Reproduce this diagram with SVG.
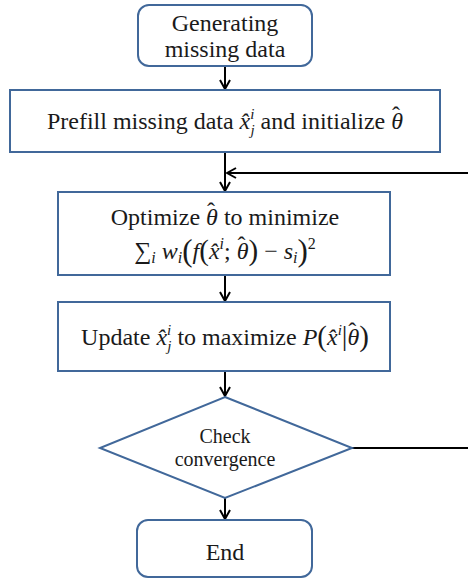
<svg xmlns="http://www.w3.org/2000/svg" width="468" height="579" viewBox="0 0 468 579">
<style>
.box{fill:#fff;stroke:#41689a;stroke-width:2}
.t{font-family:"Liberation Serif","Times New Roman","DejaVu Serif",serif;font-size:24px;fill:#1a1a1a;text-anchor:middle}
.s{font-family:"Liberation Serif","Times New Roman","DejaVu Serif",serif;font-size:20px;fill:#1a1a1a;text-anchor:middle}
.m{font-style:italic}
.c{stroke:#000;stroke-width:2;fill:none}
</style>
<defs>
<marker id="ah" viewBox="0 0 12 12" refX="11" refY="6" markerWidth="12" markerHeight="12" markerUnits="userSpaceOnUse" orient="auto">
<path d="M2,1 L11,6 L2,11" fill="none" stroke="#000" stroke-width="2"/>
</marker>
</defs>
<rect width="468" height="579" fill="#fff"/>
<g id="connectors">
<line class="c" x1="225" y1="66" x2="225" y2="89" marker-end="url(#ah)"/>
<line class="c" x1="225" y1="152" x2="225" y2="191" marker-end="url(#ah)"/>
<line class="c" x1="468" y1="173" x2="227" y2="173" marker-end="url(#ah)"/>
<line class="c" x1="225" y1="275" x2="225" y2="301" marker-end="url(#ah)"/>
<line class="c" x1="225" y1="371" x2="225" y2="396" marker-end="url(#ah)"/>
<line class="c" x1="352" y1="448" x2="468" y2="448"/>
<line class="c" x1="225" y1="498" x2="225" y2="519" marker-end="url(#ah)"/>
</g>
<g id="start">
<rect class="box" x="138" y="5" width="174" height="61" rx="11"/>
<text class="t" font-family="Liberation Serif, serif" x="225" y="31">Generating</text>
<text class="t" font-family="Liberation Serif, serif" x="225" y="57">missing data</text>
</g>
<g id="prefill">
<rect class="box" x="10" y="90" width="430" height="62"/>
<text class="t" font-family="Liberation Serif, serif" x="225" y="129">Prefill missing data <tspan class="m">x̂</tspan><tspan class="m" font-size="15" dy="-10">i</tspan><tspan class="m" font-size="15" dx="-4" dy="16">j</tspan><tspan dy="-6"> and initialize </tspan><tspan class="m">θ</tspan><tspan dx="-11" dy="-6">ˆ</tspan><tspan dx="3" dy="6"></tspan></text>
</g>
<g id="optimize">
<rect class="box" x="58" y="192" width="332" height="83"/>
<text class="t" font-family="Liberation Serif, serif" x="225" y="225">Optimize <tspan class="m">θ</tspan><tspan dx="-11" dy="-6">ˆ</tspan><tspan dx="3" dy="6"> to minimize</tspan></text>
<text class="t" font-family="Liberation Serif, serif" font-size="25" x="225" y="259">∑<tspan class="m" font-size="16" dy="4">i</tspan><tspan class="m" dy="-4"> w</tspan><tspan class="m" font-size="16" dy="4">i</tspan><tspan font-size="31" dy="-2">(</tspan><tspan class="m" dy="-2">f</tspan><tspan font-size="29" dy="1">(</tspan><tspan class="m" dy="-1">x̂</tspan><tspan class="m" font-size="16" dy="-10">i</tspan><tspan dy="10">; </tspan><tspan class="m">θ</tspan><tspan dx="-11" dy="-6">ˆ</tspan><tspan dx="3" dy="7" font-size="29">)</tspan><tspan dy="-1"> − </tspan><tspan class="m">s</tspan><tspan class="m" font-size="16" dy="4">i</tspan><tspan font-size="31" dy="-2">)</tspan><tspan font-size="16" dy="-12">2</tspan></text>
</g>
<g id="update">
<rect class="box" x="58" y="302" width="332" height="69"/>
<text class="t" font-family="Liberation Serif, serif" x="225" y="345">Update <tspan class="m">x̂</tspan><tspan class="m" font-size="15" dy="-10">i</tspan><tspan class="m" font-size="15" dx="-4" dy="16">j</tspan><tspan dy="-6"> to maximize </tspan><tspan class="m">P</tspan><tspan font-size="29" dy="1">(</tspan><tspan class="m" dy="-1">x̂</tspan><tspan class="m" font-size="15" dy="-10">i</tspan><tspan dy="10" font-size="28">|</tspan><tspan class="m">θ</tspan><tspan dx="-11" dy="-6">ˆ</tspan><tspan dx="3" dy="7" font-size="29">)</tspan></text>
</g>
<g id="check">
<polygon class="box" points="225,397 352,448 225,498 100,448"/>
<text class="s" font-family="Liberation Serif, serif" x="225" y="443">Check</text>
<text class="s" font-family="Liberation Serif, serif" x="225" y="466">convergence</text>
</g>
<g id="end">
<rect class="box" x="137" y="520" width="175" height="57" rx="11"/>
<text class="t" font-family="Liberation Serif, serif" x="225" y="560">End</text>
</g>
</svg>
